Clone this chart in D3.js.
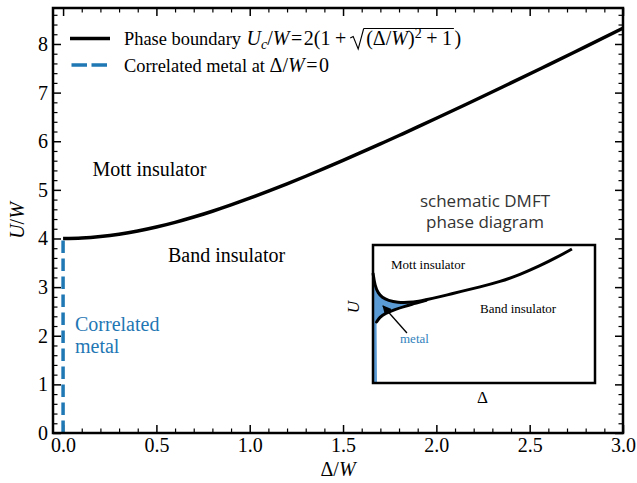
<!DOCTYPE html>
<html>
<head>
<meta charset="utf-8">
<script src="https://cdn.jsdelivr.net/npm/d3@7"></script>
<style>
  body { margin: 0; background: #fff; }
  text { font-family: "Liberation Serif", "Times New Roman", serif; }
</style>
</head>
<body>
<svg id="chart" width="637" height="483"></svg>
<script>
// phase boundary U_c/W
const deltaW = [0, 0.1, 0.2, 0.3, 0.4, 0.5, 0.6, 0.7, 0.8, 0.9, 1.0, 1.1, 1.2, 1.3, 1.4, 1.5,
                1.6, 1.7, 1.8, 1.9, 2.0, 2.2, 2.4, 2.6, 2.8, 3.0];
const boundaryUW = [4.000, 4.010, 4.040, 4.088, 4.154, 4.236, 4.332, 4.441, 4.561, 4.691, 4.828,
                    4.973, 5.124, 5.280, 5.441, 5.606, 5.774, 5.945, 6.118, 6.294, 6.472, 6.833,
                    7.200, 7.571, 7.946, 8.325];
// correlated metal segment at Delta/W = 0
const metalDelta = [0, 0];
const metalUW = [0, 4];

const xMajorTicks = [0, 0.5, 1.0, 1.5, 2.0, 2.5, 3.0];
const yMajorTicks = [0, 1, 2, 3, 4, 5, 6, 7, 8];

// schematic inset, in unit coordinates of the small box
const upperDelta = [0, 0.009, 0.023, 0.041, 0.068, 0.113, 0.158, 0.203, 0.266, 0.338, 0.392,
                    0.482, 0.572, 0.662, 0.752, 0.824, 0.896];
const upperU     = [0.797, 0.703, 0.652, 0.620, 0.598, 0.583, 0.583, 0.591, 0.612, 0.639, 0.662,
                    0.696, 0.734, 0.785, 0.849, 0.907, 0.971];
const lowerDelta = [0.016, 0.032, 0.054, 0.099, 0.144, 0.189, 0.240];
const lowerU     = [0.442, 0.480, 0.504, 0.533, 0.556, 0.576, 0.600];
const metalStripWidth = 0.018;

const svg = d3.select('#chart');
const margin = { top: 8, right: 14, bottom: 50, left: 53 };
const W = 637, H = 483;
const blue = '#1f77b4';

const x = d3.scaleLinear().domain([-0.054, 3.0]).range([margin.left, W - margin.right]);
const y = d3.scaleLinear().domain([0, 8.74]).range([H - margin.bottom, margin.top]);

/**
 * ticks on all four sides, pointing inward
 */
function drawAxis(axisFn, scale, translate, major, minor, fmt) {
    const gMaj = svg.append('g').attr('transform', translate)
        .call(axisFn(scale).tickValues(major).tickSizeInner(-8).tickSizeOuter(0).tickPadding(5)
            .tickFormat(fmt || ''));
    const gMin = svg.append('g').attr('transform', translate)
        .call(axisFn(scale).tickValues(minor).tickSizeInner(-4.5).tickSizeOuter(0).tickFormat(''));
    [gMaj, gMin].forEach(g => g.select('.domain').remove());
    gMaj.selectAll('line').attr('stroke-width', 1.5);
    gMin.selectAll('line').attr('stroke-width', 1.2);
    gMaj.selectAll('text').attr('font-size', 20).attr('fill', '#000')
        .style('font-family', '"Liberation Serif", serif');
}

const xMinor = d3.range(0, 3.001, 0.1).filter(v => Math.abs(v * 2 - Math.round(v * 2)) > 1e-6);
const yMinor = d3.range(0, 8.74, 0.2).filter(v => Math.abs(v - Math.round(v)) > 1e-6);
const bottomY = H - margin.bottom, rightX = W - margin.right;

drawAxis(d3.axisBottom, x, `translate(0,${bottomY})`, xMajorTicks, xMinor, d3.format('.1f'));
drawAxis(d3.axisTop, x, `translate(0,${margin.top})`, xMajorTicks, xMinor, null);
drawAxis(d3.axisLeft, y, `translate(${margin.left},0)`, yMajorTicks, yMinor, d3.format('d'));
drawAxis(d3.axisRight, y, `translate(${rightX},0)`, yMajorTicks, yMinor, null);

// main curves
const boundary = deltaW.map((d, i) => ({ x: d, y: boundaryUW[i] }));
svg.append('path')
    .attr('d', d3.line().x(d => x(d.x)).y(d => y(d.y)).curve(d3.curveNatural)(boundary))
    .attr('fill', 'none').attr('stroke', '#000').attr('stroke-width', 3.5);

const metal = metalDelta.map((d, i) => ({ x: d, y: metalUW[i] }));
svg.append('path')
    .attr('d', d3.line().x(d => x(d.x)).y(d => y(d.y))(metal))
    .attr('fill', 'none').attr('stroke', blue).attr('stroke-width', 3.5)
    .attr('stroke-dasharray', '12.5,5.5');

// frame
svg.append('rect')
    .attr('x', margin.left).attr('y', margin.top)
    .attr('width', rightX - margin.left).attr('height', bottomY - margin.top)
    .attr('fill', 'none').attr('stroke', '#000').attr('stroke-width', 2.5);

// axis labels
const xl = svg.append('text').attr('x', (margin.left + rightX) / 2).attr('y', 476)
    .attr('text-anchor', 'middle').attr('font-size', 20);
xl.append('tspan').text('Δ/');
xl.append('tspan').style('font-style', 'italic').text('W');

const yl = svg.append('text')
    .attr('transform', `translate(24,${(margin.top + bottomY) / 2}) rotate(-90)`)
    .attr('text-anchor', 'middle').attr('font-size', 20);
yl.append('tspan').style('font-style', 'italic').text('U');
yl.append('tspan').text('/');
yl.append('tspan').style('font-style', 'italic').text('W');

// region labels
svg.append('text').attr('x', 92.5).attr('y', 176).attr('font-size', 20).text('Mott insulator');
svg.append('text').attr('x', 168).attr('y', 262).attr('font-size', 20).text('Band insulator');
svg.append('text').attr('x', 75).attr('y', 331).attr('font-size', 20).attr('fill', blue).text('Correlated');
svg.append('text').attr('x', 75).attr('y', 353).attr('font-size', 20).attr('fill', blue).text('metal');

// legend
const legend = svg.append('g');
legend.append('line').attr('x1', 70).attr('x2', 110).attr('y1', 38.5).attr('y2', 38.5)
    .attr('stroke', '#000').attr('stroke-width', 3.5);
legend.append('line').attr('x1', 71.5).attr('x2', 107).attr('y1', 65).attr('y2', 65)
    .attr('stroke', blue).attr('stroke-width', 3.5).attr('stroke-dasharray', '15.5,4.5');

/**
 * writes a run of pieces one after the other, measuring each
 * (plain text a bit smaller than the math parts, like mathtext does)
 */
function writeRun(g, x0, base, pieces) {
    let cx = x0, overStart = null;
    pieces.forEach(p => {
        if (p.sqrt) {
            g.append('path')
                .attr('d', `M${cx},${base - 7} L${cx + 3},${base - 8.5} L${cx + 8},${base + 4} L${cx + 13.5},${base - 16.5}`)
                .attr('fill', 'none').attr('stroke', '#000').attr('stroke-width', 1.1);
            cx += 13.5;
            overStart = cx;
            cx += 2.5;
            return;
        }
        if (p.endOver) {
            g.append('line').attr('x1', overStart).attr('x2', cx + 2)
                .attr('y1', base - 16.5).attr('y2', base - 16.5)
                .attr('stroke', '#000').attr('stroke-width', 1.1);
            cx += 2.5;
            return;
        }
        const fs = p.plain ? 18.4 : 20;
        const t = g.append('text').attr('x', cx).attr('y', base + (p.dy || 0))
            .attr('font-size', fs * (p.scale || 1))
            .style('font-style', p.italic ? 'italic' : 'normal')
            .attr('xml:space', 'preserve')
            .text(p.text);
        cx += t.node().getComputedTextLength() + (p.gap || 0);
    });
}

writeRun(legend, 124, 45, [
    { text: 'Phase boundary ', plain: true, gap: 1 },
    { text: 'U', italic: true },
    { text: 'c', italic: true, scale: 0.7, dy: 4 },
    { text: '/', gap: 0 },
    { text: 'W', italic: true, gap: 1.5 },
    { text: '=', gap: 1.5 },
    { text: '2(1', gap: 4.5 },
    { text: '+', gap: 4 },
    { sqrt: true },
    { text: '(Δ/' },
    { text: 'W', italic: true },
    { text: ')' },
    { text: '2', scale: 0.7, dy: -7.5, gap: 4.5 },
    { text: '+', gap: 4.5 },
    { text: '1', gap: 0 },
    { endOver: true },
    { text: ')' }
]);
writeRun(legend, 124, 71.5, [
    { text: 'Correlated metal at ', plain: true },
    { text: 'Δ/' },
    { text: 'W', italic: true, gap: 1.5 },
    { text: '=', gap: 1.5 },
    { text: '0' }
]);

// inset schematic
const ix = d3.scaleLinear().domain([0, 1]).range([373, 595]);
const iy = d3.scaleLinear().domain([0, 1]).range([383, 245]);
const inset = svg.append('g');

const title = inset.append('text').attr('text-anchor', 'middle')
    .attr('font-size', 17).attr('fill', '#333').style('font-family', '"Open Sans", sans-serif');
title.append('tspan').attr('x', 485).attr('y', 206.5).text('schematic DMFT');
title.append('tspan').attr('x', 485).attr('y', 227.5).text('phase diagram');

const upper = upperDelta.map((d, i) => [d, upperU[i]]);
const lower = lowerDelta.map((d, i) => [d, lowerU[i]]);
const iline = d3.line().x(d => ix(d[0])).y(d => iy(d[1])).curve(d3.curveBasis);

// blue metallic pocket + strip along the left edge
const mergeAt = lowerDelta[lowerDelta.length - 1];
const pocket = upper.filter(d => d[0] > 0 && d[0] <= mergeAt)
    .concat([[mergeAt, lowerU[lowerU.length - 1]]])
    .concat(lower.slice().reverse())
    .concat([[metalStripWidth, 0], [0, 0], [0, upperU[1]]]);
inset.append('path')
    .attr('d', d3.line().x(d => ix(d[0])).y(d => iy(d[1]))(pocket))
    .attr('fill', '#5b9bd5').attr('stroke', 'none');

inset.append('path').attr('d', iline(upper)).attr('fill', 'none')
    .attr('stroke', '#000').attr('stroke-width', 3);
inset.append('path').attr('d', iline(lower)).attr('fill', 'none')
    .attr('stroke', '#000').attr('stroke-width', 3).attr('stroke-linecap', 'round');

inset.append('rect').attr('x', ix(0)).attr('y', iy(1))
    .attr('width', ix(1) - ix(0)).attr('height', iy(0) - iy(1))
    .attr('fill', 'none').attr('stroke', '#000').attr('stroke-width', 2.5);

// arrow pointing at the metal pocket
svg.append('defs').append('marker')
    .attr('id', 'head').attr('viewBox', '0 0 10 10').attr('refX', 9).attr('refY', 5)
    .attr('markerWidth', 9).attr('markerHeight', 9).attr('markerUnits', 'userSpaceOnUse')
    .attr('orient', 'auto')
    .append('path').attr('d', 'M0,0 L10,5 L0,10 Z').attr('fill', '#000');
inset.append('line')
    .attr('x1', ix(0.153)).attr('y1', iy(0.362)).attr('x2', ix(0.045)).attr('y2', iy(0.558))
    .attr('stroke', '#000').attr('stroke-width', 1.3).attr('marker-end', 'url(#head)');

inset.append('text').attr('x', 391).attr('y', 268.5).attr('font-size', 13).text('Mott insulator');
inset.append('text').attr('x', 480).attr('y', 313).attr('font-size', 13).text('Band insulator');
inset.append('text').attr('x', 400).attr('y', 343).attr('font-size', 13).attr('fill', '#3182bd').text('metal');
inset.append('text').attr('x', 482.5).attr('y', 403).attr('text-anchor', 'middle')
    .attr('font-size', 17).text('Δ');
inset.append('text').attr('transform', 'translate(358.5,307) rotate(-90)')
    .attr('text-anchor', 'middle').attr('font-size', 17).style('font-style', 'italic').text('U');
</script>
</body>
</html>
